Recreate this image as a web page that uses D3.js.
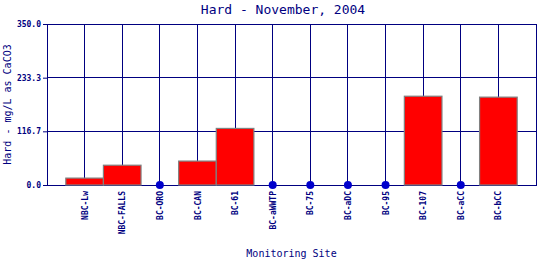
<!DOCTYPE html>
<html><head><meta charset="utf-8">
<script src="https://cdn.jsdelivr.net/npm/d3@7"></script>
<style>body{margin:0;background:#fff}svg{display:block}text{font-family:"DejaVu Sans Mono",monospace;fill:#000080}</style>
</head><body><svg id="c" width="540" height="260"></svg>
<script>
const categories = ["NBC-Lw","NBC-FALLS","BC-ORO","BC-CAN","BC-61","BC-aWWTP","BC-75","BC-aDC","BC-95","BC-107","BC-aCC","BC-bCC"];
const values = [15, 43, 0, 52, 123, 0, 0, 0, 0, 193, 0, 191];
const yTicks = [0, 116.7, 233.3, 350];
const title = "Hard - November, 2004";
const yTitle = "Hard - mg/L as CaCO3";
const xTitle = "Monitoring Site";

const svg = d3.select("#c");
const m = {l:47, r:536, t:24, b:185};
const navy = "#000080";
const x = d3.scalePoint().domain(categories).range([m.l, m.r]).padding(1);
const step = x.step();
const y = d3.scaleLinear().domain([0, 350]).range([m.b, m.t]);

// vertical grid
svg.append("g").selectAll("line").data(categories).join("line")
  .attr("x1", d=>x(d)).attr("x2", d=>x(d)).attr("y1", m.t).attr("y2", m.b)
  .attr("stroke", navy).attr("stroke-width", 1).attr("shape-rendering","crispEdges");
// horizontal grid
svg.append("g").selectAll("line").data(yTicks).join("line")
  .attr("x1", m.l).attr("x2", m.r).attr("y1", d=>y(d)).attr("y2", d=>y(d))
  .attr("stroke", navy).attr("stroke-width", 1).attr("shape-rendering","crispEdges");
// frame
svg.append("rect").attr("x", m.l).attr("y", m.t).attr("width", m.r-m.l).attr("height", m.b-m.t)
  .attr("fill","none").attr("stroke", navy).attr("shape-rendering","crispEdges");

// y axis
const ya = svg.append("g").attr("transform", `translate(${m.l},0)`)
  .call(d3.axisLeft(y).tickValues(yTicks).tickFormat(d3.format(".1f")).tickSize(4).tickPadding(2));
ya.select(".domain").attr("stroke", navy);
ya.selectAll(".tick line").attr("stroke", navy);
ya.selectAll(".tick text").attr("fill", navy).style("font-family","'DejaVu Sans Mono',monospace").style("font-size","8px").style("font-weight","bold");

// x axis labels
const xa = svg.append("g").attr("transform", `translate(0,${m.b})`)
  .call(d3.axisBottom(x).tickSize(0).tickPadding(0));
xa.select(".domain").remove();
xa.selectAll(".tick text").attr("fill", navy)
  .style("font-family","'DejaVu Sans Mono',monospace").style("font-size","8px").style("font-weight","bold")
  .attr("text-anchor","end").attr("transform","rotate(-90)")
  .attr("x", -6).attr("y", 0).attr("dy","0.32em");

// bars
const data = categories.map((c,i)=>({c, v:values[i]}));
svg.append("g").selectAll("rect").data(data.filter(d=>d.v>0)).join("rect")
  .attr("x", d=>x(d.c)-step/2).attr("width", step)
  .attr("y", d=>y(d.v)).attr("height", d=>y(0)-y(d.v))
  .attr("fill","#ff0000").attr("stroke","#808080").attr("stroke-width",1.2);
// zero points
svg.append("g").selectAll("circle").data(data.filter(d=>d.v===0)).join("circle")
  .attr("cx", d=>x(d.c)).attr("cy", d=>y(d.v)).attr("r", 4).attr("fill","#0000cc");

// titles
svg.append("text").attr("x", 283).attr("y", 14).attr("text-anchor","middle")
  .style("font-size","13px").text(title);
svg.append("text").attr("transform", `translate(11,${(m.t+m.b)/2}) rotate(-90)`).attr("text-anchor","middle")
  .style("font-size","10px").text(yTitle);
svg.append("text").attr("x", (m.l+m.r)/2).attr("y", 257).attr("text-anchor","middle")
  .style("font-size","10px").text(xTitle);
</script></body></html>
